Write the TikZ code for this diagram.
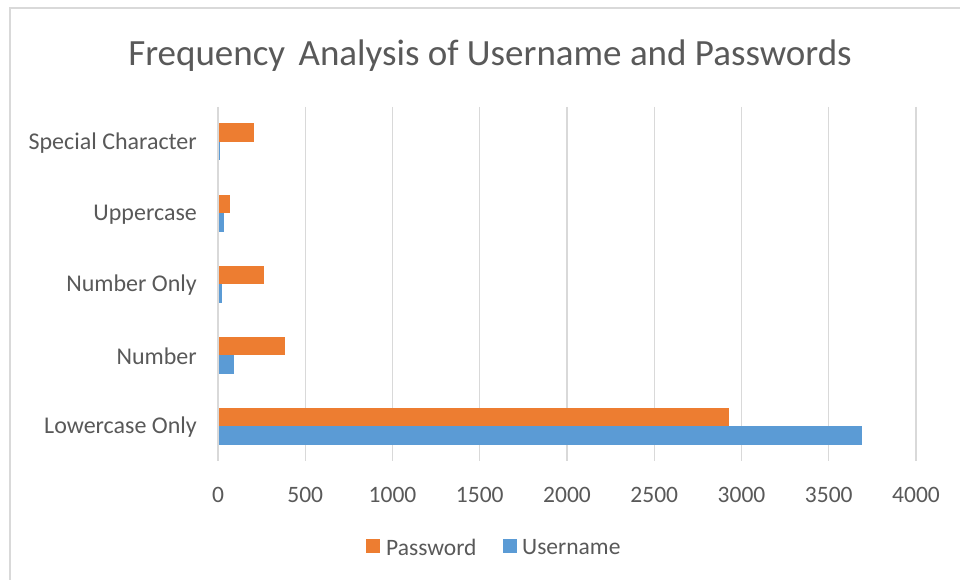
\documentclass[tikz,border=0pt]{standalone}
\usepackage{fontspec}
\setmainfont{Carlito}
\definecolor{pwcol}{HTML}{ED7D31}
\definecolor{uncol}{HTML}{5B9BD5}
\definecolor{txtcol}{HTML}{595959}
\definecolor{gridcol}{HTML}{D9D9D9}
\definecolor{framecol}{HTML}{D9D9D9}
\begin{document}
\begin{tikzpicture}[x=1pt,y=-1pt,
  gridline/.style={draw=gridcol,line width=1.3pt},
  ticklabel/.style={text=txtcol,font=\fontsize{23.5}{26}\selectfont,inner sep=0pt},
  catlabel/.style={text=txtcol,font=\fontsize{24}{26}\selectfont,inner sep=0pt,anchor=east},
  legendtext/.style={text=txtcol,font=\fontsize{23.5}{26}\selectfont,inner sep=0pt,anchor=west},
  pwbar/.style={fill=pwcol},
  unbar/.style={fill=uncol}]
\useasboundingbox (0,0) rectangle (960,580);
\fill[white] (0,0) rectangle (960,580);
% chart frame
\draw[draw=framecol,line width=1.5pt] (10,580) -- (10,8) -- (960,8);
% title
\node[text=txtcol,font=\fontsize{37}{42}\selectfont,inner sep=0pt] (title) at (490,55.5) {Frequency\hspace{5pt} Analysis of Username and Passwords};
% grid lines and tick labels
\foreach \v [count=\i from 0] in {0,500,1000,1500,2000,2500,3000,3500,4000}{
  \draw[gridline] ({218+\i*87.25},107) -- ({218+\i*87.25},461);
  \node[ticklabel] (tick\i) at ({218+\i*87.25},495) {\v};
}
% bars: category center, password value, username value
\def\sx{0.17453}
\foreach \c/\p/\u/\name [count=\k] in {
  142/201/8/Special Character,
  213/64/33/Uppercase,
  284/262/21/Number Only,
  355/378/86/Number,
  426/2926/3684/Lowercase Only}{
  \fill[pwbar] (218.6,\c-18.5) rectangle ({218.6+\p*\sx},\c);
  \fill[unbar] (218.6,\c) rectangle ({218.6+\u*\sx},\c+18.5);
  \node[catlabel] (cat\k) at (197,\c+1.5) {\name};
}
% legend
\fill[pwbar] (366,539) rectangle (380,553);
\node[legendtext] (legpw) at (386,547) {Password};
\fill[unbar] (503,539) rectangle (517,553);
\node[legendtext] (legun) at (522,547) {Username};
\end{tikzpicture}
\end{document}
